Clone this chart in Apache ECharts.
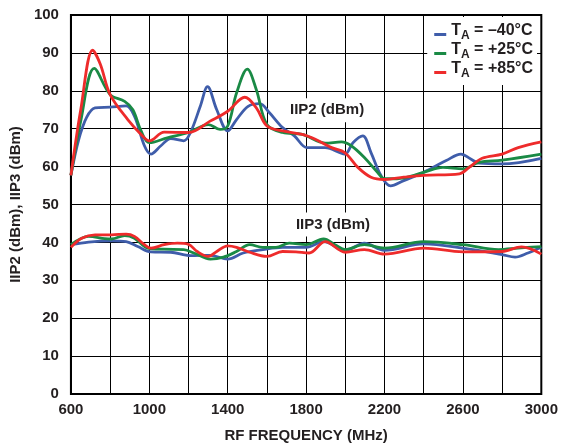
<!DOCTYPE html>
<html>
<head>
<meta charset="utf-8">
<style>
  html, body { margin: 0; padding: 0; background: #fff; }
  #chart { width: 561px; height: 448px; }
</style>
<script src="https://cdn.jsdelivr.net/npm/echarts@6/dist/echarts.min.js"></script>
</head>
<body>
<div id="chart"></div>
<script>
// Temperature labels
const tempNames = ['TA = –40°C', 'TA = +25°C', 'TA = +85°C'];
const tempColors = ['#3F5DAA', '#1A8A45', '#EE2B2B'];

// x-axis tick labels shown (every other 200 MHz grid line)
const freqTickLabels = [600, 1000, 1400, 1800, 2200, 2600, 3000];

// IIP2 (dBm) vs RF frequency (MHz)
const iip2Minus40 = [
  [600,57.7],[639,67],[680,73],[723,75.5],[800,75.7],[882,76],[924,73.3],[975,65.5],
  [1008,63.3],[1059,65.5],[1109,67.4],[1176,66.8],[1210,69],[1260,75.9],[1297,81.1],
  [1344,75],[1400,69.4],[1445,72.4],[1504,75.9],[1563,76.6],[1613,74.2],[1680,70.3],
  [1740,68.1],[1805,65],[1897,65],[1997,63.3],[2039,66.3],[2089,68.1],[2131,63.7],
  [2181,57.7],[2231,54.9],[2298,56.3],[2400,58.5],[2515,61.6],[2590,63.3],[2640,62],
  [2682,60.9],[2800,60.7],[3000,62.2]
];
const iip2Plus25 = [
  [600,57.7],[650,72],[719,85.9],[800,79],[874,77.2],[916,75],[958,69.4],[1000,66.3],
  [1092,67.6],[1200,69],[1302,71.1],[1361,69.8],[1400,70.7],[1445,79.4],[1500,85.7],
  [1546,80.3],[1600,71.1],[1680,69],[1780,68.5],[1897,66.2],[1980,66.5],[2030,65.5],
  [2097,62.4],[2164,58.5],[2200,56.8],[2264,56.8],[2400,58.5],[2498,59.8],[2600,59.4],
  [2682,61.1],[2800,61.7],[3000,63.3]
];
const iip2Plus85 = [
  [600,57.7],[650,75],[711,90.7],[750,87],[800,79],[890,72.4],[958,68.5],[1000,66.8],
  [1076,69.1],[1200,69],[1310,72],[1400,74.6],[1487,78.3],[1546,75.5],[1600,70.7],
  [1680,69.4],[1780,68.5],[1847,67.2],[1930,65],[1997,63.7],[2064,59.8],[2131,57.2],
  [2200,56.6],[2298,57.2],[2400,57.7],[2582,58.1],[2632,59.8],[2698,62.2],[2800,63.3],
  [2882,65],[3000,66.5]
];

// IIP3 (dBm) vs RF frequency (MHz)
const iip3Minus40 = [
  [600,39.4],[690,40.1],[807,40.4],[882,40.2],[941,38.9],[1008,37.5],[1109,37.4],
  [1210,36.5],[1311,36.6],[1400,35.6],[1479,37.2],[1579,38.1],[1680,38.7],[1800,38.7],
  [1889,40.2],[2000,37.9],[2097,39.8],[2200,37.9],[2400,39.6],[2600,38.5],[2800,36.8],
  [2866,36.1],[2932,37.2],[3000,38.7]
];
const iip3Plus25 = [
  [600,39.4],[690,41.6],[773,41],[807,40.9],[874,41.8],[924,41.1],[991,38.5],[1076,38.2],
  [1176,38.1],[1227,37.2],[1311,35.6],[1378,36.1],[1445,37.6],[1512,39.4],[1579,38.7],
  [1646,38.7],[1714,39.8],[1800,39.4],[1889,40.9],[1947,39.4],[2000,38.1],[2097,39.4],
  [2200,38.5],[2400,40.2],[2600,39.4],[2782,38.1],[2882,38.5],[3000,38.9]
];
const iip3Plus85 = [
  [600,38.7],[655,41.1],[723,42],[807,42],[882,42.2],[924,41.6],[975,39.4],[1008,38.5],
  [1076,39.4],[1143,39.8],[1200,39.5],[1244,37.6],[1302,36.3],[1344,37.6],[1400,39.1],
  [1445,38.7],[1512,37.4],[1600,36.3],[1680,37.6],[1748,37.5],[1815,37.2],[1897,40.2],
  [2000,37.4],[2097,38.1],[2200,36.9],[2400,38.5],[2600,37.5],[2800,37.6],[2899,38.8],
  [3000,36.9]
];

// Curve group annotations, anchored in data coordinates
const curveLabels = [
  { text: 'IIP2 (dBm)', at: [1907, 74.9] },
  { text: 'IIP3 (dBm)', at: [1937, 44.7] }
];

const FONT = '"Liberation Sans", Arial, Helvetica, sans-serif';
const INK = '#231F20';

function lineSeries(name, color, data, extra) {
  return Object.assign({
    name: name,
    type: 'line',
    data: data,
    smooth: 0.35,
    showSymbol: false,
    symbol: 'none',
    lineStyle: { color: color, width: 2.8 },
    itemStyle: { color: color },
    z: 3
  }, extra || {});
}

const chart = echarts.init(document.getElementById('chart'), null, { renderer: 'canvas' });

const option = {
  animation: false,
  backgroundColor: '#fff',
  textStyle: { fontFamily: FONT },
  grid: {
    left: 65, right: 19, top: 15, bottom: 51,
    show: true, borderColor: '#000', borderWidth: 2, backgroundColor: 'transparent'
  },
  legend: {
    orient: 'vertical',
    right: 24,
    top: 17,
    backgroundColor: '#fff',
    padding: [6, 4, 5, 7],
    itemGap: 0,
    itemWidth: 12,
    itemHeight: 3,
    icon: 'rect',
    selectedMode: false,
    data: tempNames,
    formatter: function (name) {
      return '{t|T}{s|A}{t|' + name.slice(2) + '}';
    },
    textStyle: {
      color: INK,
      rich: {
        t: { fontFamily: FONT, fontWeight: 'bold', fontSize: 16, color: INK,
             lineHeight: 15, verticalAlign: 'bottom', padding: [0, 0, 3, 0] },
        s: { fontFamily: FONT, fontWeight: 'bold', fontSize: 12, color: INK,
             lineHeight: 12, verticalAlign: 'bottom' }
      }
    }
  },
  xAxis: {
    type: 'value',
    min: 600, max: 3000, interval: 200,
    name: 'RF FREQUENCY (MHz)',
    nameLocation: 'middle',
    nameGap: 34,
    nameTextStyle: { fontFamily: FONT, fontWeight: 'bold', fontSize: 15, color: INK },
    axisLine: { show: false },
    axisTick: { show: false },
    axisLabel: {
      margin: 8,
      fontFamily: FONT, fontWeight: 'bold', fontSize: 15, color: INK,
      formatter: function (v) { return freqTickLabels.indexOf(v) >= 0 ? String(v) : ''; }
    },
    splitLine: { show: true, lineStyle: { color: '#000', width: 1 } }
  },
  yAxis: {
    type: 'value',
    min: 0, max: 100, interval: 10,
    name: 'IIP2 (dBm), IIP3 (dBm)',
    nameLocation: 'middle',
    nameGap: 41,
    nameRotate: 90,
    nameTextStyle: { fontFamily: FONT, fontWeight: 'bold', fontSize: 15, color: INK },
    axisLine: { show: false },
    axisTick: { show: false },
    axisLabel: { margin: 12, fontFamily: FONT, fontWeight: 'bold', fontSize: 15, color: INK },
    splitLine: { show: true, lineStyle: { color: '#000', width: 1 } }
  },
  series: [
    lineSeries(tempNames[0], tempColors[0], iip2Minus40, {
      markPoint: {
        symbol: 'rect',
        symbolSize: 0,
        silent: true,
        label: {
          show: true,
          position: 'inside',
          fontFamily: FONT, fontWeight: 'bold', fontSize: 15, color: INK,
          backgroundColor: '#fff',
          padding: [4, 4, 5, 4],
          formatter: function (p) { return p.name; }
        },
        data: curveLabels.map(function (c) { return { name: c.text, coord: c.at }; })
      }
    }),
    lineSeries(tempNames[1], tempColors[1], iip2Plus25),
    lineSeries(tempNames[2], tempColors[2], iip2Plus85),
    lineSeries(tempNames[0], tempColors[0], iip3Minus40),
    lineSeries(tempNames[1], tempColors[1], iip3Plus25),
    lineSeries(tempNames[2], tempColors[2], iip3Plus85)
  ]
};

chart.setOption(option);
</script>
</body>
</html>
